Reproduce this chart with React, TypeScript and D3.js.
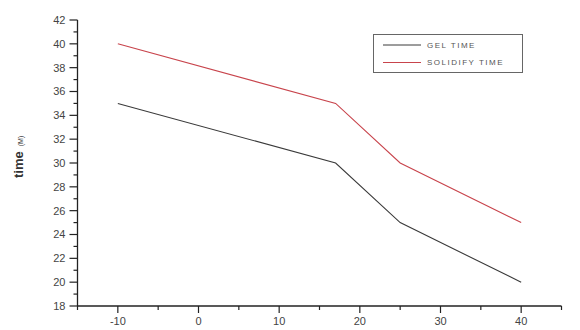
import React from "react";
import * as d3 from "d3";

const temps = [-10, 17, 25, 40];
const gelTime = [35, 30, 25, 20];
const solidifyTime = [40, 35, 30, 25];
const seriesNames = ["GEL TIME", "SOLIDIFY TIME"];
const xTicks = [-10, 0, 10, 20, 30, 40];
const xMinor = [-15, -5, 5, 15, 25, 35, 45];
const yTicks = [18, 20, 22, 24, 26, 28, 30, 32, 34, 36, 38, 40, 42];
const yMinor = [19, 21, 23, 25, 27, 29, 31, 33, 35, 37, 39, 41];

export default function App() {
  const W = 580, H = 330;
  const x = d3.scaleLinear().domain([-15, 45]).range([77.5, 561.5]);
  const y = d3.scaleLinear().domain([18, 42]).range([306, 20]);
  const line = d3.line<[number, number]>().x(d => x(d[0])).y(d => y(d[1]));
  const gel = temps.map((t, i) => [t, gelTime[i]] as [number, number]);
  const sol = temps.map((t, i) => [t, solidifyTime[i]] as [number, number]);
  const colors = ["#3a3a3a", "#c8444c"];
  const axisColor = "#222";
  const font = "Liberation Sans, Arial, sans-serif";
  return (
    <svg width={W} height={H} style={{ position: "absolute", left: 0, top: 0, background: "#fff" }}>
      <rect width={W} height={H} fill="#fff" />
      {/* axes */}
      <line x1={x(-15)} x2={x(-15)} y1={y(42)} y2={y(18)} stroke={axisColor} strokeWidth={1.3} />
      <line x1={x(-15)} x2={x(45)} y1={y(18)} y2={y(18)} stroke={axisColor} strokeWidth={1.3} />
      {yTicks.map(v => (
        <g key={"yt" + v}>
          <line x1={x(-15) - 8} x2={x(-15)} y1={y(v)} y2={y(v)} stroke={axisColor} strokeWidth={1.2} />
          <text x={x(-15) - 12} y={y(v)} dy="0.35em" textAnchor="end" fontSize={11} fill="#444" fontFamily={font}>{v}</text>
        </g>
      ))}
      {yMinor.map(v => (
        <line key={"ym" + v} x1={x(-15) - 4} x2={x(-15)} y1={y(v)} y2={y(v)} stroke={axisColor} strokeWidth={1.2} />
      ))}
      {xTicks.map(v => (
        <g key={"xt" + v}>
          <line x1={x(v)} x2={x(v)} y1={y(18)} y2={y(18) + 7} stroke={axisColor} strokeWidth={1.2} />
          <text x={x(v)} y={y(18) + 19} textAnchor="middle" fontSize={11} fill="#444" fontFamily={font}>{v}</text>
        </g>
      ))}
      {xMinor.map(v => (
        <line key={"xm" + v} x1={x(v)} x2={x(v)} y1={y(18)} y2={y(18) + 4} stroke={axisColor} strokeWidth={1.2} />
      ))}
      {/* y title */}
      <text transform={`translate(23,178) rotate(-90)`} textAnchor="start" fontFamily={font} fill="#333">
        <tspan fontSize={13} fontWeight="bold">time</tspan>
        <tspan fontSize={7} dx={5}>(M)</tspan>
      </text>
      {/* series */}
      <path d={line(gel) || ""} fill="none" stroke={colors[0]} strokeWidth={1.1} />
      <path d={line(sol) || ""} fill="none" stroke={colors[1]} strokeWidth={1.1} />
      {/* legend */}
      <rect x={373.5} y={34.5} width={149} height={38} fill="#fff" stroke="#666" strokeWidth={1} />
      {seriesNames.map((n, i) => (
        <g key={n}>
          <line x1={383} x2={421} y1={45 + i * 17.5} y2={45 + i * 17.5} stroke={colors[i]} strokeWidth={1} />
          <text x={427} y={45 + i * 17.5} dy="0.35em" fontSize={8} letterSpacing={1.5} fill="#555" fontFamily={font}>{n}</text>
        </g>
      ))}
    </svg>
  );
}
